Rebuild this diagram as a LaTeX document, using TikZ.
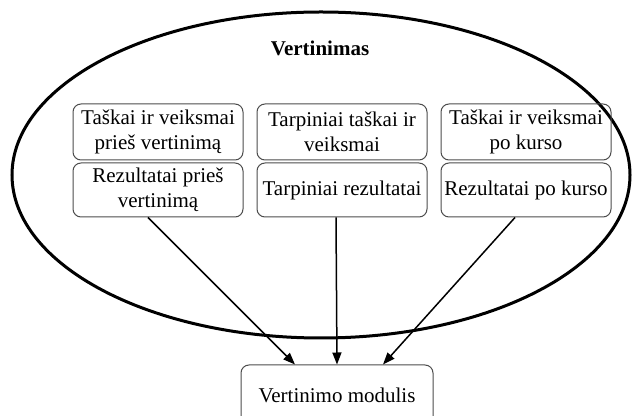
\documentclass[tikz,border=0pt]{standalone}
\usepackage{fontspec}
\setmainfont{Liberation Serif}
\usetikzlibrary{positioning, arrows.meta, shapes.geometric}

\begin{document}
\begin{tikzpicture}[
    x=0.5pt, y=-0.5pt,
    font=\fontsize{10.5}{12.5}\selectfont,
    node distance=1pt and 6.5pt,
    part/.style={rectangle, draw=black!70, line width=0.5pt, rounded corners=4pt, minimum width=85pt, inner sep=1pt, align=center},
    upper/.style={part, minimum height=28pt},
    lower/.style={part, minimum height=27pt},
    flow/.style={-{Triangle[length=6pt, width=4.5pt]}, line width=0.75pt}
]
\useasboundingbox (0,0) rectangle (632,416);

% outer frame
\node[ellipse, draw, line width=1.5pt, minimum width=309pt, minimum height=163pt, inner sep=0pt] (frame) at (321,175) {};
\node[font=\fontsize{10.5}{12.5}\selectfont\bfseries] (title) at (320,48) {Vertinimas};

% three columns
\node[upper] (pre) at (158,132) {Taškai ir veiksmai\\prieš vertinimą};
\node[upper, right=of pre] (mid) {Tarpiniai taškai ir\\veiksmai};
\node[upper, right=of mid] (post) {Taškai ir veiksmai\\po kurso};
\node[lower, below=of pre] (prer) {Rezultatai prieš\\vertinimą};
\node[lower, below=of mid] (midr) {Tarpiniai rezultatai};
\node[lower, below=of post] (postr) {Rezultatai po kurso};

% module
\node[rectangle, draw=black!70, line width=0.5pt, rounded corners=4pt, minimum width=96pt, minimum height=30pt] (module) at (337,395) {Vertinimo modulis};

\draw[flow] ([xshift=-5pt]prer.south) -- ([xshift=-21pt]module.north);
\draw[flow] ([xshift=-3pt]midr.south) -- (module.north);
\draw[flow] ([xshift=-5.5pt]postr.south) -- ([xshift=23pt]module.north);

\end{tikzpicture}
\end{document}
